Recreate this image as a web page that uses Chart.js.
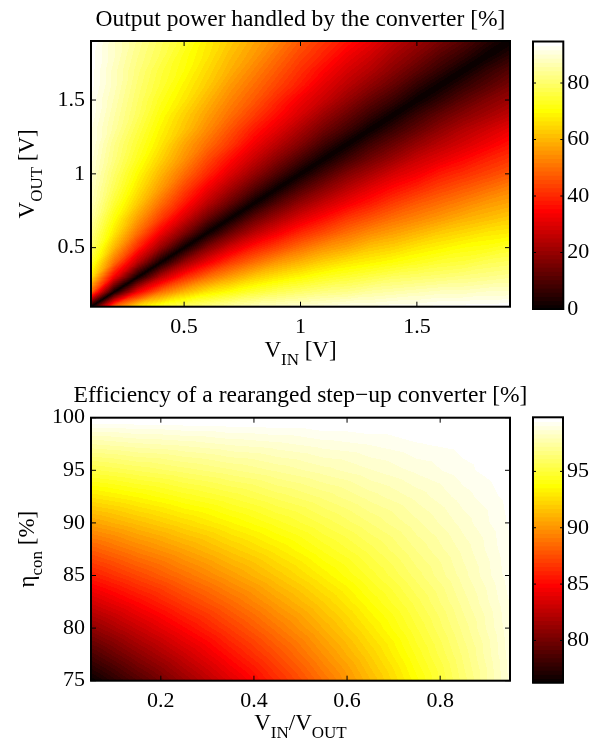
<!DOCTYPE html>
<html>
<head>
<meta charset="utf-8">
<script src="https://cdn.jsdelivr.net/npm/chart.js@4.4.0/dist/chart.umd.min.js"></script>
<style>
    html, body { margin: 0; padding: 0; background: #fff; }
    #fig { position: relative; width: 593px; height: 748px; overflow: hidden; }
    #fig canvas { position: absolute; left: 0; }
</style>
</head>
<body>
<div id="fig">
    <canvas id="map1" width="593" height="370" style="top:0"></canvas>
    <canvas id="bar1" width="593" height="370" style="top:0"></canvas>
    <canvas id="map2" width="593" height="378" style="top:370px"></canvas>
    <canvas id="bar2" width="593" height="378" style="top:370px"></canvas>
</div>
<script>
// ---- panel 1: share of output power that goes through the converter [%]
var vIn  = [0.1, 0.2, 0.3, 0.4, 0.5, 0.6, 0.7, 0.8, 0.9, 1.0, 1.1, 1.2, 1.3, 1.4, 1.5, 1.6, 1.7, 1.8, 1.9];
var vOut = [0.1, 0.2, 0.3, 0.4, 0.5, 0.6, 0.7, 0.8, 0.9, 1.0, 1.1, 1.2, 1.3, 1.4, 1.5, 1.6, 1.7, 1.8, 1.9];
// one row per V_OUT (bottom to top), one column per V_IN
var powerShare = [
    [ 0, 50, 67, 75, 80, 83, 86, 88, 89, 90, 91, 92, 92, 93, 93, 94, 94, 94, 95],
    [50,  0, 33, 50, 60, 67, 71, 75, 78, 80, 82, 83, 85, 86, 87, 88, 88, 89, 89],
    [67, 33,  0, 25, 40, 50, 57, 63, 67, 70, 73, 75, 77, 79, 80, 81, 82, 83, 84],
    [75, 50, 25,  0, 20, 33, 43, 50, 56, 60, 64, 67, 69, 71, 73, 75, 76, 78, 79],
    [80, 60, 40, 20,  0, 17, 29, 38, 44, 50, 55, 58, 62, 64, 67, 69, 71, 72, 74],
    [83, 67, 50, 33, 17,  0, 14, 25, 33, 40, 45, 50, 54, 57, 60, 63, 65, 67, 68],
    [86, 71, 57, 43, 29, 14,  0, 13, 22, 30, 36, 42, 46, 50, 53, 56, 59, 61, 63],
    [88, 75, 63, 50, 38, 25, 13,  0, 11, 20, 27, 33, 38, 43, 47, 50, 53, 56, 58],
    [89, 78, 67, 56, 44, 33, 22, 11,  0, 10, 18, 25, 31, 36, 40, 44, 47, 50, 53],
    [90, 80, 70, 60, 50, 40, 30, 20, 10,  0,  9, 17, 23, 29, 33, 38, 41, 44, 47],
    [91, 82, 73, 64, 55, 45, 36, 27, 18,  9,  0,  8, 15, 21, 27, 31, 35, 39, 42],
    [92, 83, 75, 67, 58, 50, 42, 33, 25, 17,  8,  0,  8, 14, 20, 25, 29, 33, 37],
    [92, 85, 77, 69, 62, 54, 46, 38, 31, 23, 15,  8,  0,  7, 13, 19, 24, 28, 32],
    [93, 86, 79, 71, 64, 57, 50, 43, 36, 29, 21, 14,  7,  0,  7, 13, 18, 22, 26],
    [93, 87, 80, 73, 67, 60, 53, 47, 40, 33, 27, 20, 13,  7,  0,  6, 12, 17, 21],
    [94, 88, 81, 75, 69, 63, 56, 50, 44, 38, 31, 25, 19, 13,  6,  0,  6, 11, 16],
    [94, 88, 82, 76, 71, 65, 59, 53, 47, 41, 35, 29, 24, 18, 12,  6,  0,  6, 11],
    [94, 89, 83, 78, 72, 67, 61, 56, 50, 44, 39, 33, 28, 22, 17, 11,  6,  0,  5],
    [95, 89, 84, 79, 74, 68, 63, 58, 53, 47, 42, 37, 32, 26, 21, 16, 11,  5,  0]
];
var voltTicks = [0.5, 1, 1.5];
var powerRange = [0, 94.7];
var powerBarTicks = [0, 20, 40, 60, 80];

// ---- panel 2: efficiency of the rearranged step-up converter [%]
var ratio  = [0.05, 0.15, 0.25, 0.35, 0.45, 0.55, 0.65, 0.75, 0.85, 0.95];
var etaCon = [75, 77.5, 80, 82.5, 85, 87.5, 90, 92.5, 95, 97.5, 100];
// one row per eta_con (bottom to top), one column per V_IN/V_OUT
var efficiency = [
    [76.3, 78.8, 81.3, 83.8, 86.3, 88.8, 91.3, 93.8, 96.3, 98.8],
    [78.6, 80.9, 83.1, 85.4, 87.6, 89.9, 92.1, 94.4, 96.6, 98.9],
    [81.0, 83.0, 85.0, 87.0, 89.0, 91.0, 93.0, 95.0, 97.0, 99.0],
    [83.4, 85.1, 86.9, 88.6, 90.4, 92.1, 93.9, 95.6, 97.4, 99.1],
    [85.8, 87.3, 88.8, 90.3, 91.8, 93.3, 94.8, 96.3, 97.8, 99.3],
    [88.1, 89.4, 90.6, 91.9, 93.1, 94.4, 95.6, 96.9, 98.1, 99.4],
    [90.5, 91.5, 92.5, 93.5, 94.5, 95.5, 96.5, 97.5, 98.5, 99.5],
    [92.9, 93.6, 94.4, 95.1, 95.9, 96.6, 97.4, 98.1, 98.9, 99.6],
    [95.3, 95.8, 96.3, 96.8, 97.3, 97.8, 98.3, 98.8, 99.3, 99.8],
    [97.6, 97.9, 98.1, 98.4, 98.6, 98.9, 99.1, 99.4, 99.6, 99.9],
    [100, 100, 100, 100, 100, 100, 100, 100, 100, 100]
];
var ratioTicks = [0.2, 0.4, 0.6, 0.8];
var etaTicks = [75, 80, 85, 90, 95, 100];
var effRange = [76.25, 99.8];
var effBarTicks = [80, 85, 90, 95];

var FONT = '"Liberation Serif", "Times New Roman", Times, serif';
var TICK_SIZE = 22;

// matlab style hot(64)
var HOT = [];
for (var k = 1; k <= 64; k++) {
    var r = k <= 24 ? k / 24 : 1;
    var g = k <= 24 ? 0 : (k <= 48 ? (k - 24) / 24 : 1);
    var b = k <= 48 ? 0 : (k - 48) / 16;
    HOT.push([Math.round(r * 255), Math.round(g * 255), Math.round(b * 255)]);
}
function hotAt(f) {
    var i = Math.floor(f * 64);
    return HOT[Math.max(0, Math.min(63, i))];
}

// locate a value inside a regular grid: cell index and fraction
function cellOf(grid, v) {
    var step = (grid[grid.length - 1] - grid[0]) / (grid.length - 1);
    var f = (v - grid[0]) / step;
    var i = Math.max(0, Math.min(grid.length - 2, Math.floor(f)));
    return [i, Math.max(0, Math.min(1, f - i))];
}

// shaded field inside the chart area, each grid cell split in two triangles
function heatPlugin(xs, ys, z, range) {
    return {
        id: 'heat',
        beforeDatasetsDraw: function (chart) {
            var sx = chart.scales.x, sy = chart.scales.y, ca = chart.chartArea;
            var left = Math.round(ca.left), top = Math.round(ca.top);
            var w = Math.round(ca.right) - left, h = Math.round(ca.bottom) - top;
            var cols = [], rows = [];
            for (var px = 0; px < w; px++) cols.push(cellOf(xs, sx.getValueForPixel(left + px + 0.5)));
            for (var py = 0; py < h; py++) rows.push(cellOf(ys, sy.getValueForPixel(top + py + 0.5)));
            var img = chart.ctx.createImageData(w, h), d = img.data, span = range[1] - range[0];
            for (py = 0; py < h; py++) {
                var j = rows[py][0], v = rows[py][1];
                for (px = 0; px < w; px++) {
                    var i = cols[px][0], u = cols[px][1];
                    var z00 = z[j][i], z10 = z[j][i + 1], z01 = z[j + 1][i], z11 = z[j + 1][i + 1];
                    var val = u >= v ? z00 + u * (z10 - z00) + v * (z11 - z10)
                                     : z00 + v * (z01 - z00) + u * (z11 - z01);
                    var c = hotAt((val - range[0]) / span);
                    var p = (py * w + px) * 4;
                    d[p] = c[0]; d[p + 1] = c[1]; d[p + 2] = c[2]; d[p + 3] = 255;
                }
            }
            chart.ctx.putImageData(img, left, top);
        }
    };
}

// colour scale strip, one band per colour map entry
function barPlugin(range) {
    return {
        id: 'bar',
        beforeDatasetsDraw: function (chart) {
            var sy = chart.scales.y, ca = chart.chartArea, ctx = chart.ctx;
            for (var k = 0; k < 64; k++) {
                var lo = range[0] + (range[1] - range[0]) * k / 64;
                var hi = range[0] + (range[1] - range[0]) * (k + 1) / 64;
                var c = HOT[k];
                var top = sy.getPixelForValue(hi), bot = sy.getPixelForValue(lo);
                ctx.fillStyle = 'rgb(' + c.join(',') + ')';
                ctx.fillRect(ca.left, top - 0.5, ca.right - ca.left, bot - top + 1);
            }
        }
    };
}

// box round the chart area with ticks pointing in, on both sides
function framePlugin(len, width) {
    return {
        id: 'frame',
        afterDraw: function (chart) {
            var ctx = chart.ctx, ca = chart.chartArea;
            ctx.save();
            ctx.strokeStyle = '#000';
            ctx.lineWidth = 1;
            Object.keys(chart.scales).forEach(function (id) {
                var s = chart.scales[id];
                if (!s.options.display) return;
                s.ticks.forEach(function (t) {
                    var p = s.getPixelForValue(t.value);
                    ctx.beginPath();
                    if (s.isHorizontal()) {
                        ctx.moveTo(p, ca.bottom); ctx.lineTo(p, ca.bottom - len);
                        ctx.moveTo(p, ca.top); ctx.lineTo(p, ca.top + len);
                    } else {
                        ctx.moveTo(ca.left, p); ctx.lineTo(ca.left + len, p);
                        ctx.moveTo(ca.right, p); ctx.lineTo(ca.right - len, p);
                    }
                    ctx.stroke();
                });
            });
            ctx.lineWidth = width;
            ctx.strokeRect(ca.left, ca.top, ca.right - ca.left, ca.bottom - ca.top);
            ctx.restore();
        }
    };
}

// text with subscripts: parts = [[text, isSub], ...], centred on x, baseline y
function drawRich(ctx, parts, x, y, size) {
    var sub = Math.round(size * 0.74);
    var widths = [], total = 0;
    parts.forEach(function (p) {
        ctx.font = (p[1] ? sub : size) + 'px ' + FONT;
        var w = ctx.measureText(p[0]).width;
        widths.push(w);
        total += w;
    });
    var cx = x - total / 2;
    parts.forEach(function (p, i) {
        ctx.font = (p[1] ? sub : size) + 'px ' + FONT;
        ctx.fillText(p[0], cx, y + (p[1] ? size * 0.36 : 0));
        cx += widths[i];
    });
}

function labelPlugin(spec) {
    return {
        id: 'labels',
        afterDraw: function (chart) {
            var ctx = chart.ctx, ca = chart.chartArea, mid = (ca.left + ca.right) / 2;
            ctx.save();
            ctx.fillStyle = '#000';
            ctx.textAlign = 'left';
            ctx.textBaseline = 'alphabetic';
            drawRich(ctx, [[spec.title]], mid, ca.top - spec.titleGap, spec.titleSize);
            drawRich(ctx, spec.x, mid, ca.bottom + spec.xGap, spec.size);
            ctx.translate(spec.yAt, (ca.top + ca.bottom) / 2);
            ctx.rotate(-Math.PI / 2);
            drawRich(ctx, spec.y, 0, 0, spec.size);
            ctx.restore();
        }
    };
}

function axis(min, max, ticks, position, fit, pad) {
    return {
        type: 'linear',
        position: position,
        min: min,
        max: max,
        afterBuildTicks: function (s) { s.ticks = ticks.map(function (v) { return { value: v }; }); },
        afterFit: fit,
        grid: { display: false, drawTicks: false },
        border: { display: false },
        ticks: {
            font: { family: FONT, size: TICK_SIZE },
            color: '#000',
            padding: pad,
            maxRotation: 0,
            autoSkip: false,
            callback: function (v) { return String(v); }
        }
    };
}

function baseOptions(padding, scales) {
    return {
        animation: false,
        responsive: false,
        events: [],
        layout: { padding: padding },
        plugins: { legend: { display: false }, tooltip: { enabled: false }, title: { display: false } },
        scales: scales
    };
}

function heatmap(id, xs, ys, z, range, xTicks, yTicks, area, labels) {
    var el = document.getElementById(id);
    new Chart(el, {
        type: 'scatter',
        data: { datasets: [] },
        options: baseOptions({ left: 0, right: el.width - area.right, top: area.top, bottom: 0 }, {
            x: axis(xs[0], xs[xs.length - 1], xTicks, 'bottom', function (s) { s.height = el.height - area.bottom; }, 7),
            y: axis(ys[0], ys[ys.length - 1], yTicks, 'left', function (s) { s.width = area.left; }, 6)
        }),
        plugins: [heatPlugin(xs, ys, z, range), framePlugin(5, 2), labelPlugin(labels)]
    });
}

function colorbar(id, range, ticks, area) {
    var el = document.getElementById(id);
    new Chart(el, {
        type: 'scatter',
        data: { datasets: [] },
        options: baseOptions({ left: area.left, right: 0, top: area.top, bottom: el.height - area.bottom }, {
            x: { display: false, min: 0, max: 1 },
            y: axis(range[0], range[1], ticks, 'right', function (s) { s.width = el.width - area.right; }, 4)
        }),
        plugins: [barPlugin(range), framePlugin(3, 2)]
    });
}

heatmap('map1', vIn, vOut, powerShare, powerRange, voltTicks, voltTicks,
    { left: 91, right: 510, top: 41, bottom: 306.7 },
    {
        title: 'Output power handled by the converter [%]', titleSize: 23.5, titleGap: 15,
        size: 23, xGap: 50, yAt: 34,
        x: [['V'], ['IN', 1], [' [V]']],
        y: [['V'], ['OUT', 1], [' [V]']]
    });
colorbar('bar1', powerRange, powerBarTicks, { left: 533, right: 563.3, top: 41.5, bottom: 309 });

heatmap('map2', ratio, etaCon, efficiency, effRange, ratioTicks, etaTicks,
    { left: 91, right: 510, top: 47.7, bottom: 310.7 },
    {
        title: 'Efficiency of a rearanged step\u2212up converter [%]', titleSize: 23.5, titleGap: 16,
        size: 23, xGap: 49, yAt: 34,
        x: [['V'], ['IN', 1], ['/V'], ['OUT', 1]],
        y: [['\u03b7'], ['con', 1], [' [%]']]
    });
colorbar('bar2', effRange, effBarTicks, { left: 533, right: 563, top: 47.3, bottom: 312.7 });
</script>
</body>
</html>
